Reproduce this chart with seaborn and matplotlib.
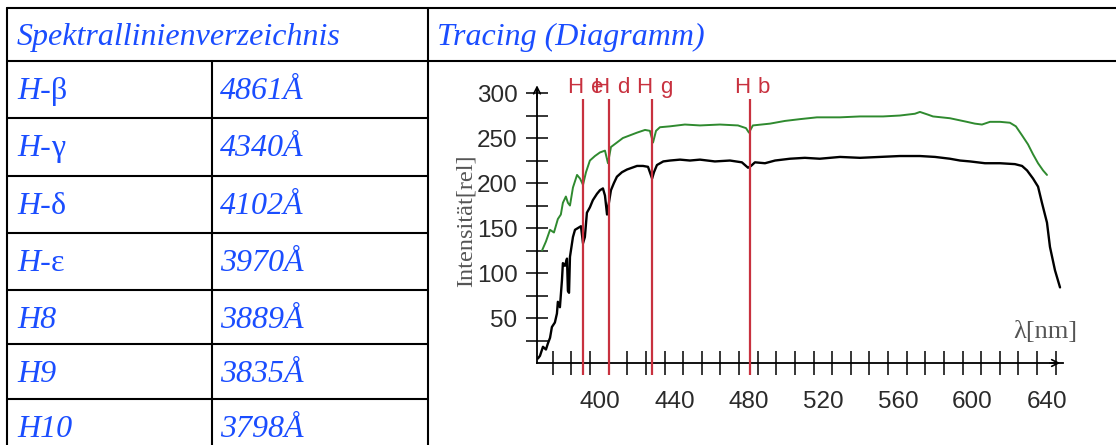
import numpy as np
import pandas as pd
import matplotlib
matplotlib.use("Agg")
import matplotlib.pyplot as plt
import seaborn as sns

sns.set_theme(style="white")
plt.rcParams["font.family"] = ["DejaVu Sans"]

# ---------------- table data ----------------
header_left = "Spektrallinienverzeichnis"
header_right = "Tracing (Diagramm)"
row_names = ["H-", "H-", "H-", "H-", "H8", "H9", "H10"]
row_greek = ["β", "γ", "δ", "ε", "", "", ""]
row_wavelengths = ["4861Å", "4340Å", "4102Å", "3970Å", "3889Å", "3835Å", "3798Å"]

# ---------------- chart data ----------------
black_nm = [366.7, 367.8, 369.4, 371.0, 372.1, 373.2, 374.2, 375.8, 376.9, 377.4,
            378.5, 379.6, 380.1, 381.2, 382.3, 382.8, 383.4, 383.9, 385.5, 386.6,
            388.2, 389.8, 390.9, 391.9, 393.0, 394.6, 396.2, 398.4, 400.0, 401.6,
            402.7, 403.8, 404.8, 405.9, 407.5, 409.1, 411.8, 414.5, 417.2, 419.9,
            423.1, 425.8, 428.0, 429.0, 430.6, 434.0, 437.6, 443.0, 448.3, 453.7,
            461.7, 469.8, 476.2, 479.5, 481.1, 483.2, 488.6, 494.0, 502.0, 510.0,
            518.0, 528.9, 539.6, 550.3, 561.0, 571.8, 579.9, 587.9, 593.3, 598.7,
            606.7, 614.8, 622.8, 626.6, 629.3, 632.5, 635.2, 637.3, 640.0, 641.6,
            644.3, 647.0]
black_int = [5, 8, 18, 15, 22, 28, 40, 45, 55, 68,
             62, 92, 111, 108, 116, 80, 78, 118, 140, 148,
             150, 152, 133, 140, 167, 173, 181, 188, 192, 194,
             186, 165, 178, 192, 200, 207, 212, 215, 217, 219,
             219, 218, 205, 212, 220, 224, 225, 226, 225, 226,
             224, 225, 223, 217, 219, 223, 222, 225, 227, 228,
             227, 229, 228, 229, 230, 230, 229, 227, 225, 224,
             222, 222, 221, 219, 214, 205, 196, 178, 156, 129,
             103, 84]

green_nm = [368.9, 371.0, 373.2, 375.3, 377.4, 379.0, 380.1, 381.7, 382.8, 383.9,
            385.5, 387.7, 389.3, 390.9, 392.5, 394.6, 397.3, 400.0, 402.7, 404.3,
            405.9, 409.1, 412.3, 416.1, 419.9, 424.2, 426.8, 428.5, 430.1, 432.2,
            437.6, 445.6, 453.7, 464.4, 474.1, 478.4, 480.0, 482.1, 491.3, 499.3,
            507.4, 516.5, 528.9, 539.6, 552.0, 561.0, 569.1, 571.8, 576.1, 578.8,
            587.9, 597.0, 601.3, 605.1, 609.4, 614.8, 620.1, 623.3, 626.6, 629.8,
            632.5, 635.2, 637.9, 640.0]
green_int = [125, 135, 148, 145, 160, 165, 178, 185, 178, 175,
             195, 209, 205, 198, 212, 225, 230, 234, 236, 222,
             240, 245, 250, 253, 256, 259, 258, 245, 258, 262,
             263, 265, 264, 265, 264, 261, 256, 264, 266, 269,
             271, 273, 273, 274, 274, 275, 277, 279, 276, 274,
             272, 268, 266, 265, 268, 268, 267, 263, 253, 243,
             232, 222, 214, 209]

line_nm = [390.9, 404.8, 427.9, 480.5]
line_letters = ["e", "d", "g", "b"]
x_ticklabels = [400, 440, 480, 520, 560, 600, 640]
y_ticklabels = [50, 100, 150, 200, 250, 300]

# ---------------- figure ----------------
W, H = 1116, 445
fig = plt.figure(figsize=(W / 100, H / 100), dpi=100)
fig.patch.set_facecolor("white")

bg = fig.add_axes([0, 0, 1, 1])
bg.set_xlim(0, W)
bg.set_ylim(H, 0)
bg.axis("off")

lw_tab = 1.5
row_tops = [61, 118, 176, 233, 290, 344, 399]
bg.plot([7, W], [8, 8], color="black", lw=lw_tab)
bg.plot([7, W], [61, 61], color="black", lw=lw_tab)
for y in row_tops[1:]:
    bg.plot([7, 428], [y, y], color="black", lw=lw_tab)
bg.plot([7, 7], [8, H], color="black", lw=lw_tab)
bg.plot([428, 428], [8, H], color="black", lw=lw_tab)
bg.plot([212, 212], [61, H], color="black", lw=lw_tab)

blue = "#1a4dff"
ital = dict(family="Liberation Serif", style="italic", size=23, color=blue,
            va="baseline", ha="left")
bg.text(17, 45, header_left, **ital)
bg.text(437, 45, header_right, **ital)
for top, name, greek, wl in zip(row_tops, row_names, row_greek, row_wavelengths):
    base = top + 38
    t = bg.text(17, base, name, **ital)
    if greek:
        bg.annotate(greek, xy=(1, 0), xycoords=t, ha="left", va="bottom",
                    family="Liberation Serif", size=23, color=blue)
    bg.text(220, base, wl, **ital)

# ---------------- chart ----------------
x0, x1, yb, yt = 537, 1063, 363, 88
ax = fig.add_axes([x0 / W, (H - yb) / H, (x1 - x0) / W, (yb - yt) / H])
ax.patch.set_alpha(0)

df_black = pd.DataFrame({"nm": black_nm, "val": black_int})
df_green = pd.DataFrame({"nm": green_nm, "val": green_int})
sns.lineplot(data=df_green, x="nm", y="val", ax=ax, color="#2f8a2f", lw=1.4,
             sort=False, estimator=None)
sns.lineplot(data=df_black, x="nm", y="val", ax=ax, color="black", lw=1.7,
             sort=False, estimator=None)

red = "#c8313f"
ax.vlines(line_nm, -13, 293, color=red, lw=1.6, clip_on=False, zorder=5)
for xn, let in zip(line_nm, line_letters):
    ax.annotate("H", xy=(xn, 306), xytext=(-8, 0), textcoords="offset pixels",
                ha="center", va="center", color=red, family="Liberation Sans",
                size=16, annotation_clip=False)
    ax.annotate(let, xy=(xn, 306), xytext=(14, 0), textcoords="offset pixels",
                ha="center", va="center", color=red, family="Liberation Sans",
                size=16, annotation_clip=False)

ax.set_xlim(366.2, 648.6)
ax.set_ylim(0, 305.6)
for s in ["top", "right"]:
    ax.spines[s].set_visible(False)
for s in ["left", "bottom"]:
    ax.spines[s].set_color("black")
    ax.spines[s].set_linewidth(1.3)

ax.set_xticks(x_ticklabels)
ax.set_xticklabels([str(v) for v in x_ticklabels])
ax.set_xticks(np.arange(374.7, 646, 10), minor=True)
ax.set_yticks(y_ticklabels)
ax.set_yticklabels([str(v) for v in y_ticklabels])
ax.set_yticks(np.arange(25, 300, 50), minor=True)

tick_font = dict(labelsize=17.5, labelcolor="#2a2a2a")
ax.tick_params(axis="x", which="major", length=0, pad=20, **tick_font)
ax.tick_params(axis="x", which="minor", length=17, width=1.1, direction="inout",
               color="black", bottom=True)
ax.tick_params(axis="y", which="major", length=16, width=1.1, direction="inout",
               color="black", pad=6, left=True, **tick_font)
ax.tick_params(axis="y", which="minor", length=16, width=1.1, direction="inout",
               color="black", left=True)
for lab in ax.get_xticklabels() + ax.get_yticklabels():
    lab.set_family("Liberation Sans")
ax.set_xlabel("")
ax.set_ylabel("")

# axis arrows
ax.annotate("", xy=(0, 1.02), xytext=(0, 0.95), xycoords="axes fraction",
            arrowprops=dict(arrowstyle="->", lw=1.2, color="black"))
ax.annotate("", xy=(1.0, 0), xytext=(0.97, 0), xycoords="axes fraction",
            arrowprops=dict(arrowstyle="->", lw=1.2, color="black"))

bg.text(466, 221, "Intensität[rel]", rotation=90, ha="center", va="center",
        family="Liberation Serif", size=17.5, color="#555555")
bg.text(1045, 332, "λ[nm]", ha="center", va="center",
        family="Liberation Serif", size=19, color="#555555")

fig.savefig("out.png", dpi=100, facecolor="white")
